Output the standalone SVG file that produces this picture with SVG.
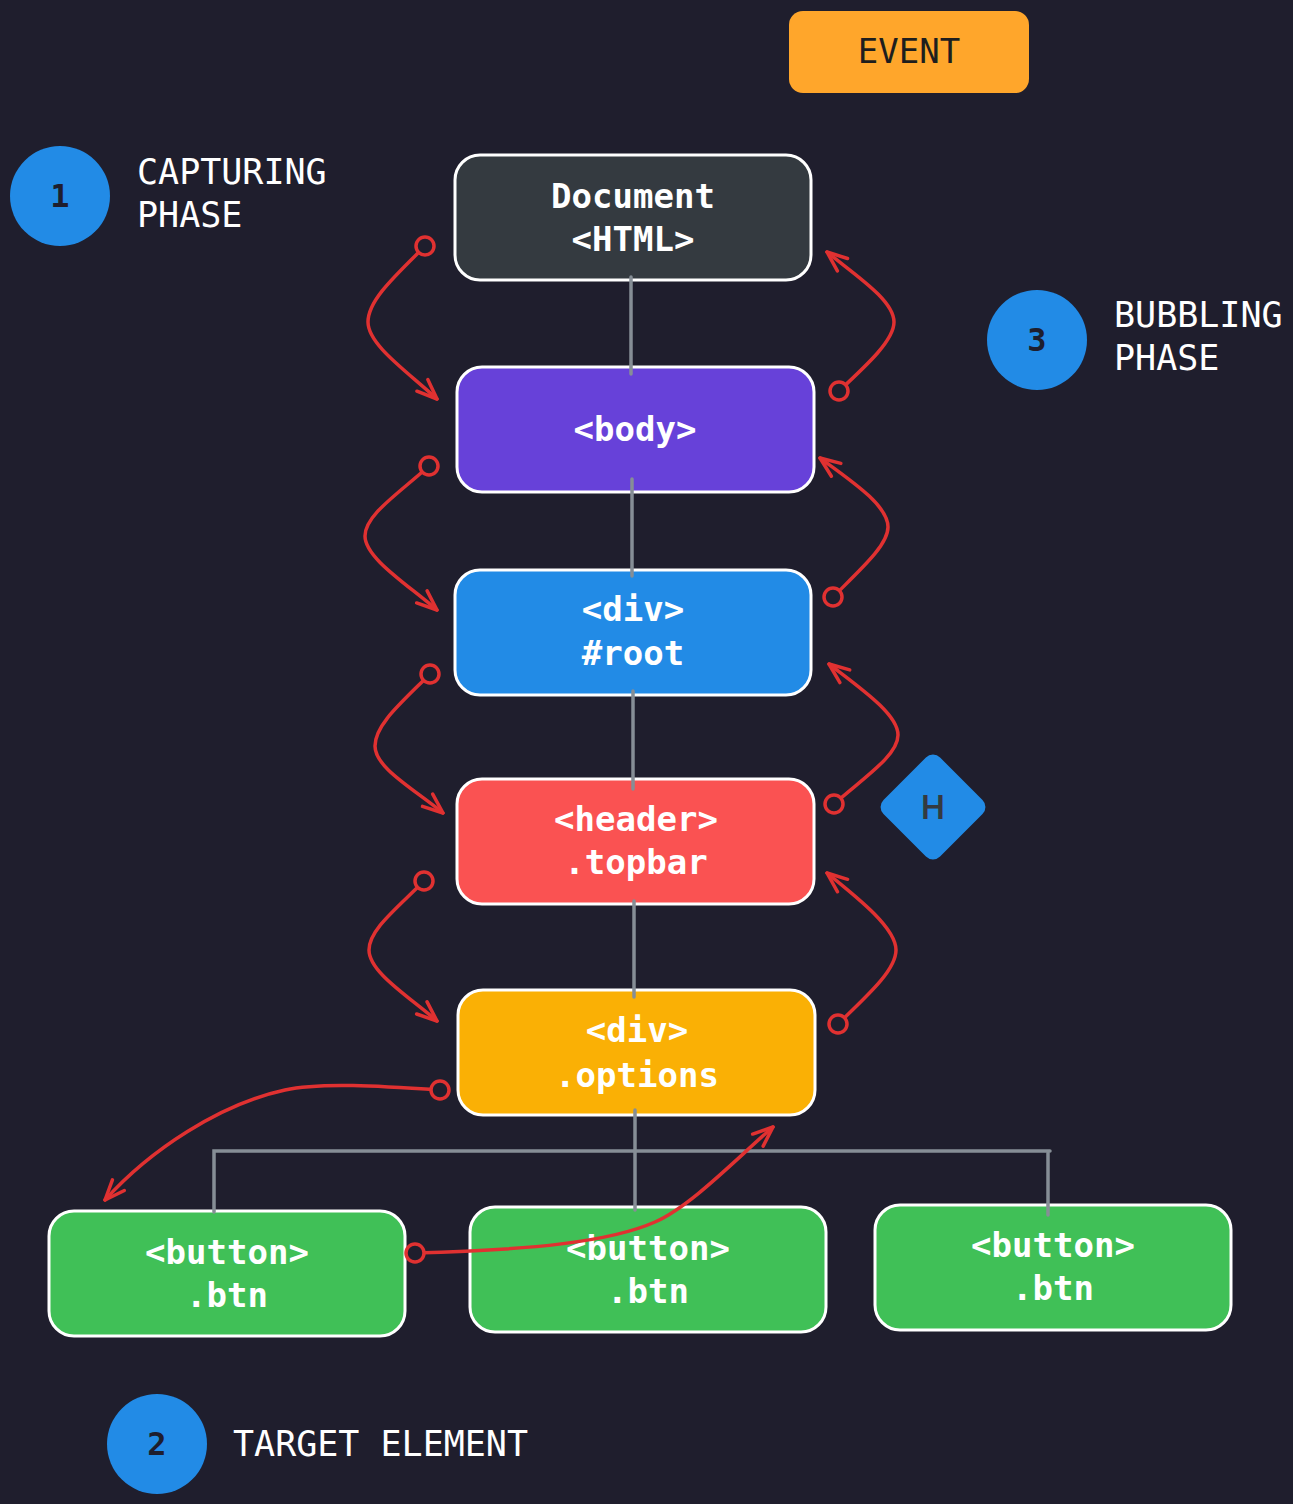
<svg xmlns="http://www.w3.org/2000/svg" width="1293" height="1504" viewBox="0 0 1293 1504">
<style>
.bg{fill:#1f1e2d}
.box{stroke:#ffffff;stroke-width:3}
.nt{font-family:"DejaVu Sans Mono","Liberation Mono",monospace;font-size:34px;font-weight:bold;fill:#ffffff;text-anchor:middle}
.lbl{font-family:"DejaVu Sans Mono","Liberation Mono",monospace;font-size:35px;fill:#ffffff}
.num{font-family:"DejaVu Sans Mono","Liberation Mono",monospace;font-size:32px;font-weight:bold;fill:#1e1e2e;text-anchor:middle}
.gray{stroke:#868e96;stroke-width:3.5;fill:none;stroke-linecap:round}
.red{stroke:#e03131;stroke-width:3.5;fill:none;stroke-linecap:round;marker-start:url(#dot);marker-end:url(#arr)}
</style>
<defs>
<marker id="arr" markerUnits="userSpaceOnUse" viewBox="-24 -12 28 24" markerWidth="28" markerHeight="24" refX="0" refY="0" orient="auto" overflow="visible">
<path d="M -20 -8 L 0 0 L -20 8" fill="none" stroke="#e03131" stroke-width="3.5" stroke-linecap="round" stroke-linejoin="round"/>
</marker>
<marker id="dot" markerUnits="userSpaceOnUse" viewBox="-12 -12 24 24" markerWidth="24" markerHeight="24" refX="0" refY="0" overflow="visible">
<circle r="9" fill="#1f1e2d" stroke="#e03131" stroke-width="3.5"/>
</marker>
</defs>
<rect class="bg" x="0" y="0" width="1293" height="1504"/>

<g id="event">
<rect x="789" y="11" width="240" height="82" rx="14" fill="#ffa62b"/>
<text x="909" y="63" class="nt" style="font-weight:normal;fill:#1e1e1e">EVENT</text>
</g>

<g id="step1">
<circle cx="60" cy="196" r="50" fill="#228be6"/>
<text x="60" y="207" class="num">1</text>
<text x="137" y="184" class="lbl">CAPTURING</text>
<text x="137" y="227" class="lbl">PHASE</text>
</g>

<g id="step3">
<circle cx="1037" cy="340" r="50" fill="#228be6"/>
<text x="1037" y="351" class="num">3</text>
<text x="1114" y="327" class="lbl">BUBBLING</text>
<text x="1114" y="370" class="lbl">PHASE</text>
</g>

<g id="step2">
<circle cx="157" cy="1444" r="50" fill="#228be6"/>
<text x="157" y="1455" class="num">2</text>
<text x="233" y="1456" class="lbl">TARGET ELEMENT</text>
</g>

<g id="document">
<rect class="box" x="455" y="155" width="356" height="125" rx="25" fill="#343a40"/>
<text x="633" y="208" class="nt">Document</text>
<text x="633" y="251" class="nt">&lt;HTML&gt;</text>
</g>

<g id="body">
<rect class="box" x="457" y="367" width="357" height="125" rx="25" fill="#6741d9"/>
<text x="635" y="441" class="nt">&lt;body&gt;</text>
</g>

<g id="root">
<rect class="box" x="455" y="570" width="356" height="125" rx="25" fill="#228be6"/>
<text x="633" y="621" class="nt">&lt;div&gt;</text>
<text x="633" y="665" class="nt">#root</text>
</g>

<g id="header">
<rect class="box" x="457" y="779" width="357" height="125" rx="25" fill="#fa5252"/>
<text x="636" y="831" class="nt">&lt;header&gt;</text>
<text x="636" y="874" class="nt">.topbar</text>
</g>

<g id="options">
<rect class="box" x="458" y="990" width="357" height="125" rx="25" fill="#fab005"/>
<text x="637" y="1042" class="nt">&lt;div&gt;</text>
<text x="637" y="1087" class="nt">.options</text>
</g>

<g id="button1">
<rect class="box" x="49" y="1211" width="356" height="125" rx="25" fill="#40c057"/>
<text x="227" y="1264" class="nt">&lt;button&gt;</text>
<text x="227" y="1307" class="nt">.btn</text>
</g>

<g id="button2">
<rect class="box" x="470" y="1207" width="356" height="125" rx="25" fill="#40c057"/>
<text x="648" y="1260" class="nt">&lt;button&gt;</text>
<text x="648" y="1303" class="nt">.btn</text>
</g>

<g id="button3">
<rect class="box" x="875" y="1205" width="356" height="125" rx="25" fill="#40c057"/>
<text x="1053" y="1257" class="nt">&lt;button&gt;</text>
<text x="1053" y="1300" class="nt">.btn</text>
</g>

<g id="handler">
<rect x="893" y="767" width="80" height="80" rx="10" fill="#228be6" transform="rotate(45 933 807)"/>
<text x="933" y="819" style="font-family:Inter,'Noto Sans',sans-serif;font-size:32px;font-weight:600;fill:#343a40;text-anchor:middle">H</text>
</g>

<g id="connectors">
<path class="gray" d="M 631 277 L 631 374"/>
<path class="gray" d="M 632 479 L 632 576"/>
<path class="gray" d="M 633 691 L 633 789"/>
<path class="gray" d="M 634 901 L 634 997"/>
<path class="gray" d="M 635 1110 L 635 1210"/>
<path class="gray" d="M 214 1212 L 214 1151 L 1050 1151"/>
<path class="gray" d="M 1048 1153 L 1048 1215"/>

<path class="red" d="M 425 246 C 395 276, 368 300, 368 322 C 368 345, 408 372, 437 399"/>
<path class="red" d="M 839 391 C 868 364, 894 340, 894 322 C 894 300, 855 275, 827 252"/>
<path class="red" d="M 429 466 C 398 494, 365 515, 365 536 C 365 558, 407 584, 437 610"/>
<path class="red" d="M 833 597 C 862 568, 888 545, 888 527 C 888 505, 850 480, 820 458"/>
<path class="red" d="M 430 674 C 400 704, 375 725, 375 746 C 375 768, 414 789, 443 813"/>
<path class="red" d="M 834 804 C 866 776, 898 755, 898 735 C 898 714, 860 688, 829 664"/>
<path class="red" d="M 424 881 C 395 910, 369 930, 369 950 C 369 972, 408 996, 437 1021"/>
<path class="red" d="M 838 1024 C 868 995, 896 970, 896 950 C 896 928, 858 898, 827 873"/>
<path class="red" d="M 440 1090 C 380 1086, 320 1082, 285 1090 C 220 1104, 150 1150, 105 1200"/>
<path class="red" d="M 415 1253 C 530 1250, 610 1242, 655 1222 C 691 1206, 735 1160, 773 1127"/>
</g>
</svg>
